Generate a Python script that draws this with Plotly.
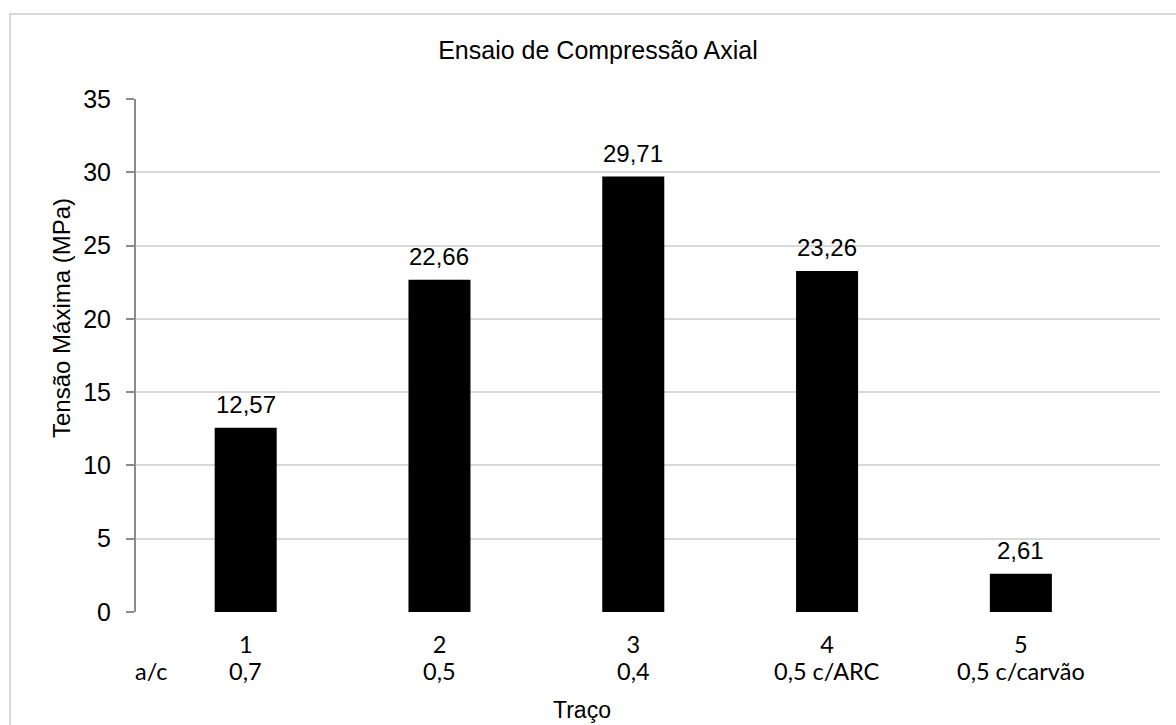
import plotly.graph_objects as go

# Compression test results per mix (traço) and its water/cement ratio
traco = ["1", "2", "3", "4", "5"]
relacao_ac = ["0,7", "0,5", "0,4", "0,5 c/ARC", "0,5 c/carvão"]
tensao_max = [12.57, 22.66, 29.71, 23.26, 2.61]
y_ticks = [0, 5, 10, 15, 20, 25, 30, 35]

rotulos = [f"{v:.2f}".replace(".", ",") for v in tensao_max]

ARIAL = "Liberation Sans, Arial, sans-serif"
CALIBRI = "Lato, Carlito, Calibri, sans-serif"

# pixel geometry of the plot area (used to place free text in paper units)
PLOT_L, PLOT_R, PLOT_T, PLOT_B = 136, 1160, 99, 612


def px_x(px):
    return (px - PLOT_L) / (PLOT_R - PLOT_L)


def px_y(py):
    return (PLOT_B - py) / (PLOT_B - PLOT_T)


fig = go.Figure()
fig.add_trace(go.Bar(
    x=traco,
    y=tensao_max,
    width=0.32,
    marker=dict(color="#000000", line=dict(width=0)),
    showlegend=False,
    hoverinfo="skip",
))

# value labels above each bar (category index positions)
for i, (v, txt) in enumerate(zip(tensao_max, rotulos)):
    fig.add_annotation(
        x=i, y=v, text=txt, showarrow=False,
        xref="x", yref="y", yanchor="bottom", yshift=8,
        font=dict(family=ARIAL, size=24, color="#000000"),
    )

# second row of category labels: water/cement ratio
for i, r in enumerate(relacao_ac):
    fig.add_annotation(
        x=i, y=px_y(671), xref="x", yref="paper",
        text=r, showarrow=False, xanchor="center", yanchor="middle",
        font=dict(family=CALIBRI, size=23.5, color="#000000"),
    )

# "a/c" row caption
fig.add_annotation(
    x=px_x(151), y=px_y(671), xref="paper", yref="paper",
    text="a/c", showarrow=False, xanchor="center", yanchor="middle",
    font=dict(family=CALIBRI, size=23.5, color="#000000"),
)

# axis titles
fig.add_annotation(
    x=px_x(582), y=px_y(710), xref="paper", yref="paper",
    text="Traço", showarrow=False, xanchor="center", yanchor="middle",
    font=dict(family=ARIAL, size=23, color="#000000"),
)
fig.add_annotation(
    x=px_x(61), y=px_y(318), xref="paper", yref="paper",
    text="Tensão Máxima (MPa)", showarrow=False, textangle=-90,
    xanchor="center", yanchor="middle",
    font=dict(family=ARIAL, size=24, color="#000000"),
)

# chart frame
fig.add_shape(
    type="rect", xref="paper", yref="paper",
    x0=px_x(10), x1=1.2, y0=-0.4, y1=px_y(14),
    line=dict(color="#d9d9d9", width=2), fillcolor="rgba(0,0,0,0)", layer="below",
)

fig.update_layout(
    width=1176, height=725,
    margin=dict(l=PLOT_L, r=1176 - PLOT_R, t=PLOT_T, b=725 - PLOT_B),
    paper_bgcolor="#ffffff", plot_bgcolor="#ffffff",
    title=dict(
        text="Ensaio de Compressão Axial",
        x=px_x(598), xref="paper", xanchor="center",
        y=1 - 50 / 725, yref="container", yanchor="middle",
        font=dict(family=ARIAL, size=25, color="#000000"),
    ),
)

fig.update_xaxes(
    type="category",
    range=[-0.566, 4.718],
    showgrid=False, zeroline=False, showline=False,
    ticks="", ticklabelstandoff=16,
    tickfont=dict(family=CALIBRI, size=23.5, color="#000000"),
)

fig.update_yaxes(
    range=[0, 35],
    tickvals=y_ticks,
    showgrid=True, gridcolor="#d9d9d9", gridwidth=2,
    zeroline=False,
    showline=True, linecolor="#8c8c8c", linewidth=2,
    ticks="outside", ticklen=8, tickcolor="#8c8c8c", tickwidth=2,
    ticklabelstandoff=10,
    tickfont=dict(family=ARIAL, size=25, color="#000000"),
)

fig.write_html("out.html")
